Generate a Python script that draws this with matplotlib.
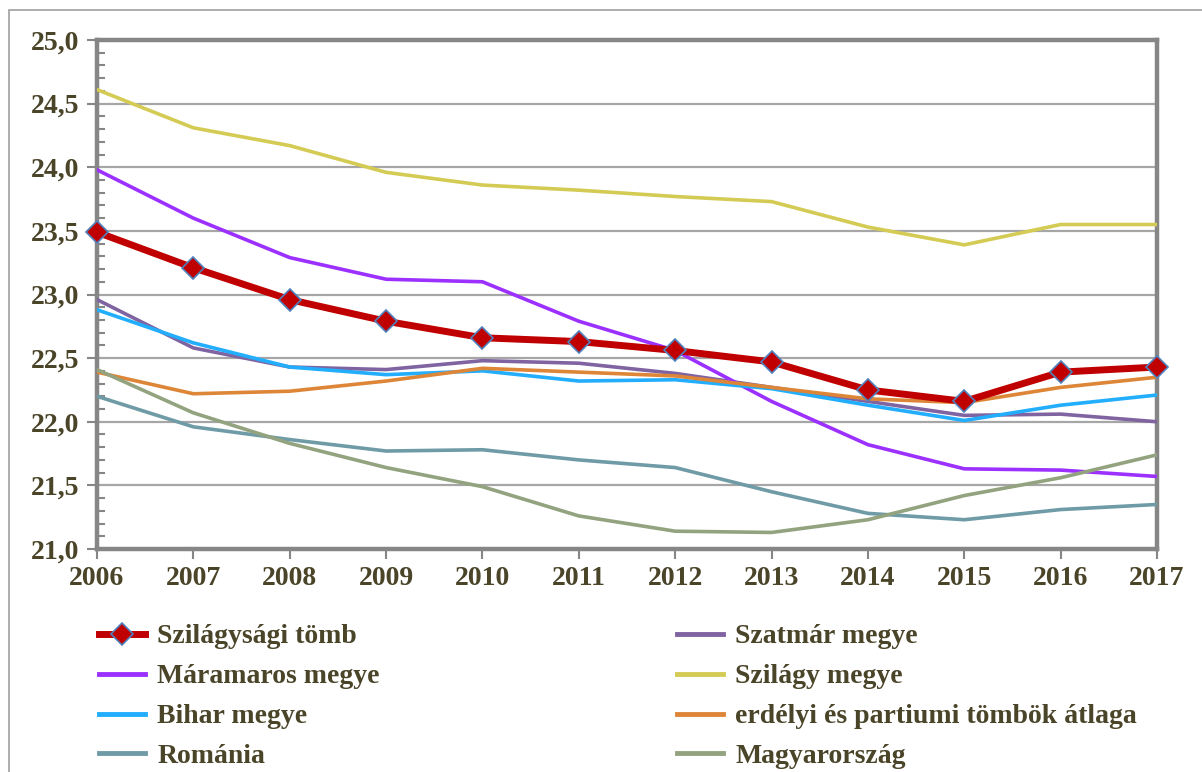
import matplotlib
matplotlib.use("Agg")
import matplotlib.pyplot as plt
from matplotlib.ticker import MultipleLocator, FuncFormatter
from matplotlib.patches import Rectangle
from matplotlib.lines import Line2D

years = [2006, 2007, 2008, 2009, 2010, 2011, 2012, 2013, 2014, 2015, 2016, 2017]

szilagysagi_tomb = [23.49, 23.21, 22.96, 22.79, 22.66, 22.63, 22.56, 22.47, 22.25, 22.16, 22.39, 22.43]
szatmar_megye = [22.96, 22.58, 22.43, 22.41, 22.48, 22.46, 22.38, 22.27, 22.16, 22.05, 22.06, 22.00]
maramaros_megye = [23.98, 23.60, 23.29, 23.12, 23.10, 22.79, 22.56, 22.16, 21.82, 21.63, 21.62, 21.57]
szilagy_megye = [24.61, 24.31, 24.17, 23.96, 23.86, 23.82, 23.77, 23.73, 23.53, 23.39, 23.55, 23.55]
bihar_megye = [22.88, 22.62, 22.43, 22.37, 22.40, 22.32, 22.33, 22.26, 22.13, 22.01, 22.13, 22.21]
tombok_atlaga = [22.39, 22.22, 22.24, 22.32, 22.42, 22.39, 22.36, 22.27, 22.18, 22.15, 22.27, 22.35]
romania = [22.20, 21.96, 21.86, 21.77, 21.78, 21.70, 21.64, 21.45, 21.28, 21.23, 21.31, 21.35]
magyarorszag = [22.41, 22.07, 21.83, 21.64, 21.49, 21.26, 21.14, 21.13, 21.23, 21.42, 21.56, 21.74]

labels = ["Szilágysági tömb", "Szatmár megye", "Máramaros megye", "Szilágy megye",
          "Bihar megye", "erdélyi és partiumi tömbök átlaga", "Románia", "Magyarország"]

TXT = "#4a4428"
FS = 20
plt.rcParams['font.family'] = ['Liberation Serif', 'DejaVu Serif']
plt.rcParams['font.weight'] = 'bold'

fig = plt.figure(figsize=(12.02, 7.72), dpi=100)
ax = fig.add_axes([97/1202, 1-549/772, (1157-97)/1202, (549-40)/772])

# outer frame
fig.patches.append(Rectangle((9/1202, -0.05), 1.2, 1-10/772+0.05, transform=fig.transFigure,
                             fill=False, edgecolor="#a0a0a0", lw=1.2))

ax.yaxis.grid(True, which='major', color="#a6a6a6", lw=1.6, zorder=0)
ax.set_axisbelow(True)

series = [
    (szatmar_megye, "#8064a2", 2.6),
    (maramaros_megye, "#9b30ff", 2.6),
    (szilagy_megye, "#d4cb55", 2.6),
    (bihar_megye, "#22aefc", 2.6),
    (tombok_atlaga, "#de8638", 2.6),
    (romania, "#6f9ba6", 2.6),
    (magyarorszag, "#93a37f", 2.6),
]
hmap = {}
names = labels[1:]
for (vals, c, lw), nm in zip(series, names):
    h, = ax.plot(years, vals, color=c, lw=lw, zorder=3, solid_joinstyle='round')
    hmap[nm] = h
h0, = ax.plot(years, szilagysagi_tomb, color="#c00000", lw=5, zorder=5,
              marker='D', markersize=11, markerfacecolor="#c00000",
              markeredgecolor="#4f81bd", markeredgewidth=1.2, clip_on=False)
hmap[labels[0]] = h0

ax.set_xlim(2006, 2017)
ax.set_ylim(21.0, 25.0)
ax.set_xticks(years)
ax.yaxis.set_major_locator(MultipleLocator(0.5))
ax.yaxis.set_minor_locator(MultipleLocator(0.1))
ax.yaxis.set_major_formatter(FuncFormatter(lambda v, p: f"{v:.1f}".replace('.', ',')))

for s in ax.spines.values():
    s.set_color("#868686")
    s.set_linewidth(3.2)

ax.tick_params(axis='y', which='major', direction='out', length=7, width=1.5, color="#868686",
               labelsize=FS, labelcolor=TXT, pad=6)
ax.tick_params(axis='y', which='minor', direction='in', length=6, width=1.5, color="#868686")
ax.tick_params(axis='x', which='major', direction='out', length=7, width=1.5, color="#868686",
               labelsize=FS, labelcolor=TXT, pad=5)
for t in ax.get_xticklabels() + ax.get_yticklabels():
    t.set_fontweight('bold')

order = [labels[0], labels[2], labels[4], labels[6], labels[1], labels[3], labels[5], labels[7]]
handles = []
for nm in order:
    h = hmap[nm]
    if nm == labels[0]:
        handles.append(Line2D([], [], color="#c00000", lw=5, marker='D', markersize=11,
                              markerfacecolor="#c00000", markeredgecolor="#4f81bd", markeredgewidth=1.2))
    else:
        handles.append(Line2D([], [], color=h.get_color(), lw=3.5))
leg = fig.legend(handles, order, ncol=2, loc='upper left',
                 bbox_to_anchor=(99/1202, 1-624/772), frameon=False,
                 prop={'family': ['Liberation Serif'], 'weight': 'bold', 'size': FS},
                 handlelength=1.65, handletextpad=0.45, columnspacing=10.7,
                 labelspacing=0.52, borderpad=0, borderaxespad=0)
for t in leg.get_texts():
    t.set_color(TXT)

fig.savefig("out.png", dpi=100)
